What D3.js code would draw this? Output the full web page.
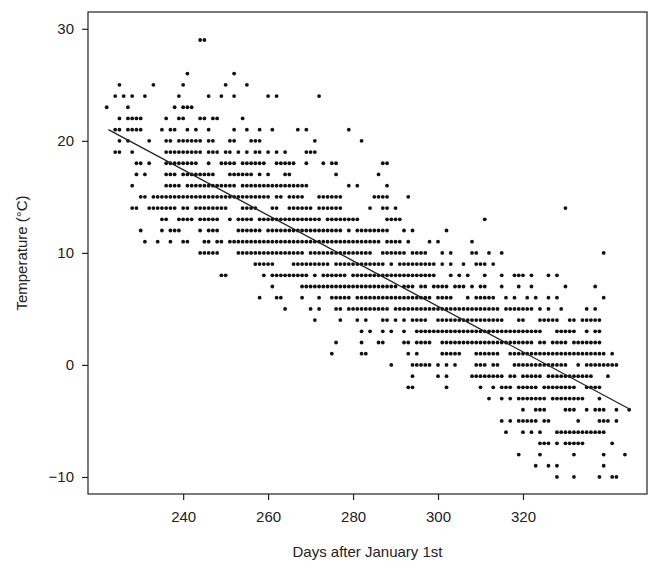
<!DOCTYPE html>
<html>
<head>
<meta charset="utf-8">
<script src="https://cdn.jsdelivr.net/npm/d3@7"></script>
<style>
  body { margin: 0; background: #fff; }
  text { font-family: "Liberation Sans", Arial, sans-serif; fill: #222; }
</style>
</head>
<body>
<div id="chart"></div>
<script>
// Daily temperature vs day of year, with fitted line

var temps = [29, 26, 25, 24, 23, 22, 21, 20, 19, 18, 17, 16, 15, 14, 13, 12, 11, 10, 9, 8, 7, 6, 5, 4, 3, 2, 1, 0,
             -1, -2, -3, -4, -5, -6, -7, -8, -9, -10];

// days observed at each temperature (same order as temps)
var daysAtTemp = [
  "244,245",
  "241,252",
  "225,233,240,250,255",
  "224,226,228,231,239,246,249,252,260,262,272",
  "222,227,238,240,241,242",
  "225,227-230,236,239,240,244,245,247,248,254",
  "224,225,227-230,235,237,238,241,243,246,252,255,258,261,267,269,279",
  "225,227,232,236,237,239-244,246,247,251,252,256-258,271,282",
  "224,225,228,236-244,246-248,250,251,253,255,257,258,260,262,264,269-271",
  "229,230,232,236-243,246,249-252,254-259,262-266,269,273,275,276,287,288",
  "229,231,236-238,240-247,251-256,258,260,264,265,276,286",
  "228,236-239,241-252,254-269,279,281,288",
  "230,231,233-260,262,263,265-268,272-277,285-288,293",
  "228,229,232-238,240,241,243-250,254-257,261,262,265-270,272-277,284,287,288,290,330",
  "235,236,239-242,244-248,251,253-256,258-272,274-281,288-291,311",
  "230,235,237-239,244,246-248,253-258,260-277,279,281-288,292,294,302",
  "231,234,237,240,241,245,246,248,249,251-286,288-291,293,298,300,308",
  "244-248,253-268,270-284,287-292,294-297,301,303,308,309,312,315,339",
  "257-261,266-274,276-287,289,291-299,301,303,306,309-311,313",
  "249,250,259,261-269,271,273-278,280-299,303,305,307,311,315,318-320,322,326,328",
  "261,268-290,292-294,296,297,299-302,304-306,308,310,311,315,319,322,330,337",
  "258,262,263,268,272,275-279,281-298,300-303,307,309-313,316,318,321,323,326,328,339",
  "264,270,272,276,277,279-288,290-314,316-322,324,326,329,335,337",
  "271,277,281,283,287,288,290,292,294-297,300-315,319,320,324-328,331,332,334-338",
  "282,284,287,289,292,295-324,328-332,335,337,338",
  "276,282,286,287,292,293,295-298,301-322,324,325,327-330,332-338",
  "275,282,283,293,295,301-305,309-314,317-339,341",
  "289,294-298,300,302,304,309-311,313,314,318-330,333,335-342",
  "294,300,302,308-315,317,318,320-324,326-336,340",
  "293,294,302,310,313,315-317,319-323,325-332,335-338",
  "312,315,317,319-325,327-334,338",
  "320,323-325,330-332,335,337-339,342,345",
  "315,317,319-323,325,326,333,338-340,342",
  "316,320,322,324,328-339",
  "324-326,328,330-334,341",
  "319,324,332,339,344",
  "323,326,328,339",
  "328,332,338,341,342"
];

// fitted line, end points
var fitDays = [222.4, 345.4];
var fitTemps = [21.0, -4.0];

var xTicks = [240, 260, 280, 300, 320];
var yTicks = [-10, 0, 10, 20, 30];

function buildPoints(){
  var pts = [];
  for(var i = 0; i < temps.length; i++){
    var parts = daysAtTemp[i].split(",");
    for(var j = 0; j < parts.length; j++){
      var p = parts[j].split("-");
      var a = parseInt(p[0]);
      var b = p.length > 1 ? parseInt(p[1]) : a;
      for(var d = a; d <= b; d++){
        pts.push({day: d, temp: temps[i]});
      }
    }
  }
  return pts;
}

function drawChart(){
  var W = 654, H = 568;
  var left = 88, right = 647, top = 12, bottom = 494;

  var svg = d3.select("#chart").append("svg")
      .attr("width", W)
      .attr("height", H);

  var x = d3.scaleLinear()
      .domain([217.6, 349.2])
      .range([left, right]);

  var y = d3.scaleLinear()
      .domain([-11.52, 31.5])
      .range([bottom, top]);

  var points = buildPoints();

  svg.append("g")
    .selectAll("circle")
    .data(points)
    .enter().append("circle")
      .attr("cx", function(d) { return x(d.day); })
      .attr("cy", function(d) { return y(d.temp); })
      .attr("r", 1.9)
      .attr("fill", "#111");

  var fit = fitDays.map(function(d, i) { return [d, fitTemps[i]]; });
  svg.append("path")
      .datum(fit)
      .attr("fill", "none")
      .attr("stroke", "#222")
      .attr("stroke-width", 1.3)
      .attr("d", d3.line()
        .x(function(d) { return x(d[0]); })
        .y(function(d) { return y(d[1]); }));

  svg.append("rect")
      .attr("x", left)
      .attr("y", top)
      .attr("width", right - left)
      .attr("height", bottom - top)
      .attr("fill", "none")
      .attr("stroke", "#222")
      .attr("stroke-width", 1.2);

  var gx = svg.append("g")
      .attr("transform", "translate(0," + bottom + ")")
      .call(d3.axisBottom(x).tickValues(xTicks).tickSize(6).tickPadding(11));
  var gy = svg.append("g")
      .attr("transform", "translate(" + left + ",0)")
      .call(d3.axisLeft(y).tickValues(yTicks).tickSize(6).tickPadding(8));

  [gx, gy].forEach(function(g){
    g.select(".domain").remove();
    g.selectAll("line").attr("stroke", "#222").attr("stroke-width", 1.2);
    g.selectAll("text")
      .attr("font-family", "Liberation Sans, Arial, sans-serif")
      .attr("font-size", 15)
      .attr("fill", "#222");
  });

  svg.append("text")
      .attr("x", (left + right) / 2)
      .attr("y", 557)
      .attr("text-anchor", "middle")
      .attr("font-size", 15)
      .text("Days after January 1st");

  svg.append("text")
      .attr("transform", "translate(27," + ((top + bottom) / 2) + ") rotate(-90)")
      .attr("text-anchor", "middle")
      .attr("font-size", 15)
      .text("Temperature (°C)");
}

drawChart();
</script>
</body>
</html>
